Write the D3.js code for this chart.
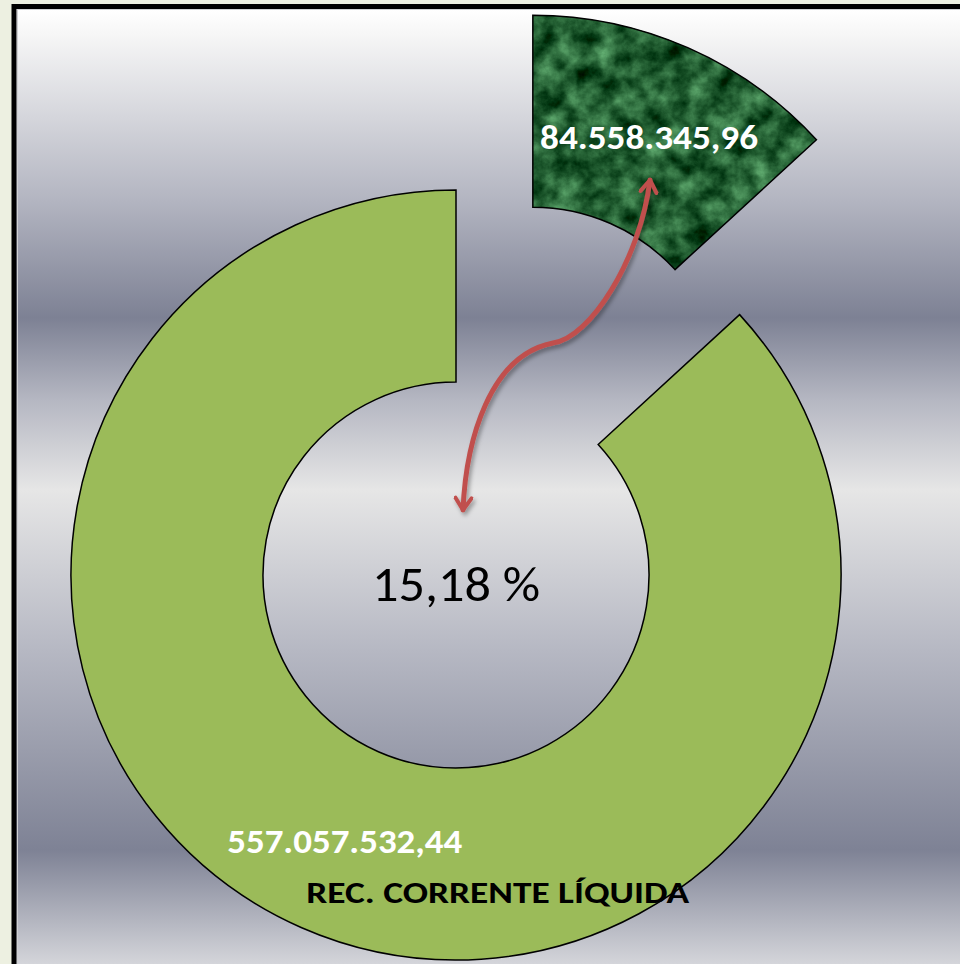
<!DOCTYPE html>
<html>
<head>
<meta charset="utf-8">
<script src="https://cdn.jsdelivr.net/npm/d3@7"></script>
<style>
	html, body { margin: 0; padding: 0; background: #edf0e1; }
	svg { display: block; }
	text { font-family: Carlito, Calibri, Lato, "Open Sans", sans-serif; }
</style>
</head>
<body>
<div id="chart"></div>
<script>
// data
const categories = ['DESPESA', 'REC. CORRENTE LÍQUIDA'];
const values = [84558345.96, 557057532.44];
const valueLabels = ['84.558.345,96', '557.057.532,44'];
const categoryLabel = 'REC. CORRENTE LÍQUIDA';

// dimension stuff
const width = 960;
const height = 964;
const cx = 456;
const cy = 575;
const outerR = 385;
const innerR = 193;
const explode = 191;

const $svg = d3.select('#chart').append('svg')
	.attr('width', width)
	.attr('height', height);

const defs = $svg.append('defs');

// chrome-like background bands
const bg = defs.append('linearGradient')
	.attr('id', 'bg')
	.attr('gradientUnits', 'userSpaceOnUse')
	.attr('x1', 0).attr('x2', 0).attr('y1', 10).attr('y2', 964);
[
	[10, '#ffffff'], [35, '#f6f6f6'], [200, '#b3b5c1'], [318, '#7d8194'],
	[400, '#b5b7c2'], [490, '#e6e6e6'], [650, '#b6b8c3'], [850, '#7e8295'],
	[964, '#d4d5da']
].forEach(([y, c]) => {
	bg.append('stop').attr('offset', (y - 10) / 954).attr('stop-color', c);
});

// marble texture for the exploded slice
const marble = defs.append('filter')
	.attr('id', 'marble')
	.attr('color-interpolation-filters', 'sRGB')
	.attr('x', 0).attr('y', 0).attr('width', '100%').attr('height', '100%');
marble.append('feTurbulence')
	.attr('type', 'fractalNoise')
	.attr('baseFrequency', '0.045')
	.attr('numOctaves', 5)
	.attr('seed', 11);
marble.append('feColorMatrix')
	.attr('type', 'matrix')
	.attr('values', '0.6 0 0 0 -0.16  0.75 0 0 0 0.0  0.6 0 0 0 -0.1  0 0 0 0 1');

const shadow = defs.append('filter')
	.attr('id', 'shadow')
	.attr('x', '-20%').attr('y', '-20%').attr('width', '140%').attr('height', '140%');
shadow.append('feDropShadow')
	.attr('dx', 2).attr('dy', 3).attr('stdDeviation', 2)
	.attr('flood-color', '#000').attr('flood-opacity', 0.35);

defs.append('marker')
	.attr('id', 'head')
	.attr('viewBox', '0 0 20 20')
	.attr('refX', 16).attr('refY', 10)
	.attr('markerWidth', 20).attr('markerHeight', 20)
	.attr('markerUnits', 'userSpaceOnUse')
	.attr('orient', 'auto-start-reverse')
	.append('path')
	.attr('d', 'M4,2 L16,10 L4,18')
	.attr('fill', 'none')
	.attr('stroke', '#c0504d')
	.attr('stroke-width', 4)
	.attr('stroke-linecap', 'round')
	.attr('stroke-linejoin', 'round');

// frame
$svg.append('rect')
	.attr('width', width).attr('height', height)
	.attr('fill', '#edf0e1');
$svg.append('rect')
	.attr('x', 14).attr('y', 6.5)
	.attr('width', 980).attr('height', 990)
	.attr('fill', 'url(#bg)')
	.attr('stroke', '#000')
	.attr('stroke-width', 5);
$svg.append('rect')
	.attr('x', 17.5).attr('y', 9.5)
	.attr('width', 980).attr('height', 990)
	.attr('fill', 'none')
	.attr('stroke', '#cfd0d2')
	.attr('stroke-width', 1);

// pie
const pie = d3.pie().sort(null).value(d => d);
const arcs = pie(values);
const arc = d3.arc().innerRadius(innerR).outerRadius(outerR);

const offset = d => {
	if (d.index !== 0) return [0, 0];
	const a = (d.startAngle + d.endAngle) / 2;
	return [Math.sin(a) * explode, -Math.cos(a) * explode];
};

const $g = $svg.append('g').attr('transform', `translate(${cx}, ${cy})`);

// big slice
const big = arcs[1];
$g.append('path')
	.attr('class', 'slice')
	.attr('d', arc(big))
	.attr('fill', '#9bbb59')
	.attr('stroke', '#000')
	.attr('stroke-width', 1.5);

// exploded slice with texture
const small = arcs[0];
const [ox, oy] = offset(small);
const $small = $g.append('g').attr('transform', `translate(${ox}, ${oy})`);
defs.append('clipPath').attr('id', 'smallClip')
	.append('path').attr('d', arc(small));
$small.append('path')
	.attr('d', arc(small))
	.attr('fill', '#1d5530');
$small.append('g')
	.attr('clip-path', 'url(#smallClip)')
	.append('rect')
	.attr('x', 0).attr('y', -outerR)
	.attr('width', outerR).attr('height', outerR)
	.attr('filter', 'url(#marble)');
$small.append('path')
	.attr('d', arc(small))
	.attr('fill', 'none')
	.attr('stroke', '#000')
	.attr('stroke-width', 1.5);

// value labels at centroids
arcs.forEach((d, i) => {
	const [x, y] = arc.centroid(d);
	const [dx, dy] = offset(d);
	$g.append('text')
		.attr('x', x + dx + (i === 0 ? 0 : 5))
		.attr('y', y + dy + 13)
		.attr('text-anchor', 'middle')
		.attr('fill', '#fff')
		.attr('font-weight', 700)
		.attr('font-size', 34)
		.attr('textLength', i === 0 ? 218 : 235)
		.attr('lengthAdjust', 'spacingAndGlyphs')
		.text(valueLabels[i]);
});

// category label
const [bx, by] = arc.centroid(big);
$g.append('text')
	.attr('x', bx + 158)
	.attr('y', by + 63)
	.attr('text-anchor', 'middle')
	.attr('fill', '#000')
	.attr('font-weight', 700)
	.attr('font-size', 31)
	.attr('textLength', 383)
	.attr('lengthAdjust', 'spacingAndGlyphs')
	.text(categoryLabel);

// ratio in the hole
const ratio = values[0] / values[1] * 100;
$g.append('text')
	.attr('x', 0)
	.attr('y', 26)
	.attr('text-anchor', 'middle')
	.attr('fill', '#000')
	.attr('font-size', 49)
	.attr('textLength', 168)
	.attr('lengthAdjust', 'spacingAndGlyphs')
	.text(`${ratio.toFixed(2).replace('.', ',')} %`);

// curved double arrow from hole to exploded slice
$g.append('path')
	.attr('d', 'M7,-65 C10,-135 34,-220 97,-232 C134,-237 184,-315 194,-395')
	.attr('fill', 'none')
	.attr('stroke', '#c0504d')
	.attr('stroke-width', 5)
	.attr('stroke-linecap', 'round')
	.attr('marker-start', 'url(#head)')
	.attr('marker-end', 'url(#head)')
	.attr('filter', 'url(#shadow)');
</script>
</body>
</html>
